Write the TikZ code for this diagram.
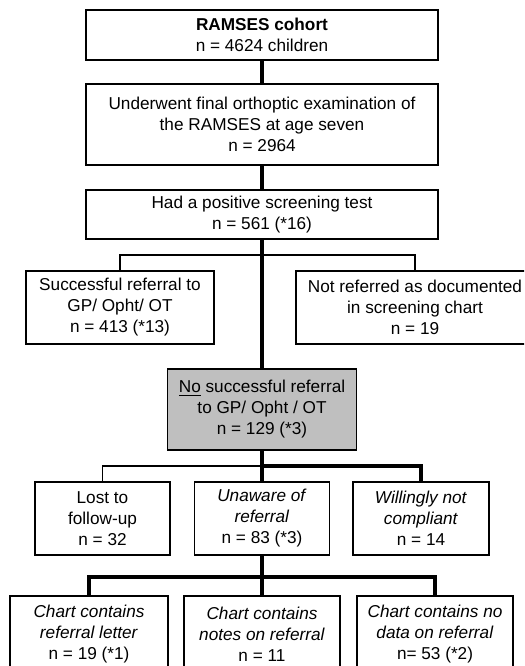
\documentclass[tikz,border=0pt]{standalone}
\usepackage{fontspec}
\setmainfont{Liberation Sans}
\tikzset{
  box/.style={rectangle,draw,line width=0.9pt,align=center,inner sep=0pt,
    font=\fontsize{12.9}{15.75}\selectfont},
  branch/.style={line width=0.9pt},
  trunk/.style={line width=3pt}
}
\begin{document}
\begin{tikzpicture}[x=0.75pt,y=-0.75pt]
        \useasboundingbox (0,0) rectangle (524,666);
        \clip (0,0) rectangle (524,666);
        \node at (262,35) [box,minimum width=264pt,minimum height=37.5pt] (cohort) {\textbf{RAMSES cohort}\\n = 4624 children};
        \node at (262,124.5) [box,minimum width=264pt,minimum height=60.75pt] (exam) {Underwent final orthoptic examination of\\the RAMSES at age seven\\n = 2964};
        \node at (262,214.5) [box,minimum width=264pt,minimum height=36.75pt] (positive) {Had a positive screening test\\n = 561 (*16)};
        \node at (120,307.5) [box,minimum width=141pt,minimum height=54.75pt] (referred) {Successful referral to\\GP/ Opht/ OT\\n = 413 (*13)};
        \node at (415,307.5) [box,minimum width=178.5pt,minimum height=54.75pt] (notref) {Not referred as documented\\in screening chart\\n = 19};
        \node at (262,409.5) [box,fill=black!25,minimum width=141.75pt,minimum height=60.75pt] (noref) {\underline{No} successful referral\\to GP/ Opht / OT\\n = 129 (*3)};
        \node at (102.5,518.5) [box,minimum width=101.25pt,minimum height=54.75pt] (lost) {Lost to\\follow-up\\n = 32};
        \node at (262,518.5) [box,minimum width=101.25pt,minimum height=54.75pt] (unaware) {\textit{Unaware of}\\\textit{referral}\\n = 83 (*3)};
        \node at (421,518.5) [box,minimum width=102pt,minimum height=54.75pt] (unwilling) {\textit{Willingly not}\\\textit{compliant}\\n = 14};
        \node at (89,634) [box,minimum width=118.5pt,minimum height=57pt] (letter) {\textit{Chart contains}\\\textit{referral letter}\\n = 19 (*1)};
        \node at (262,634) [box,minimum width=117pt,minimum height=57pt] (notes) {\textit{Chart contains}\\\textit{notes on referral}\\n = 11};
        \node at (435,634) [box,minimum width=117pt,minimum height=57pt] (nodata) {\textit{Chart contains no}\\\textit{data on referral}\\n= 53 (*2)};
        \coordinate (fork1) at (262,255);
        \coordinate (fork2) at (262,466);
        \coordinate (fork3) at (262,577);
        \draw[trunk] (cohort.south) -- (exam.north);
        \draw[trunk] (exam.south) -- (positive.north);
        \draw[branch] (referred.north) |- (fork1) -| (notref.north);
        \draw[trunk] (positive.south) -- (noref.north);
        \draw[branch] (lost.north) |- (fork2);
        \draw[trunk] (unwilling.north) |- (fork2);
        \draw[trunk] (noref.south) -- (unaware.north);
        \draw[trunk] (letter.north) |- (fork3) -| (nodata.north);
        \draw[trunk] (unaware.south) -- (notes.north);
\end{tikzpicture}
\end{document}
